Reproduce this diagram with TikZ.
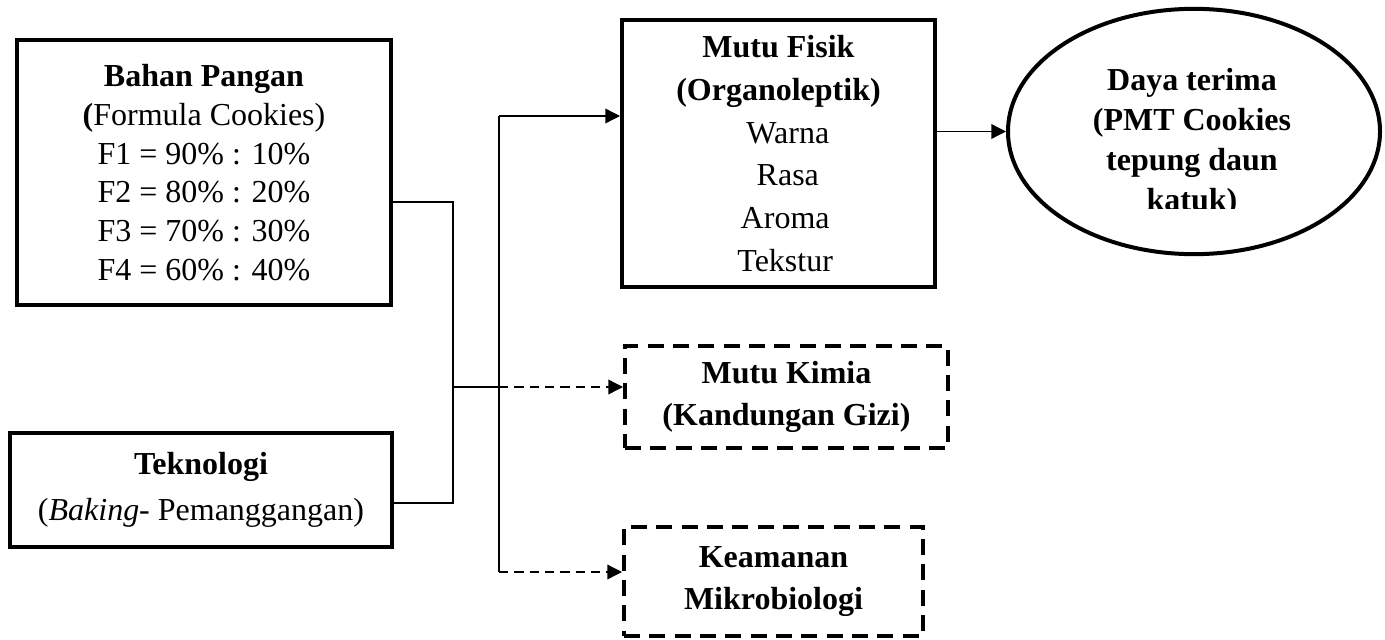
\documentclass[tikz,border=0pt]{standalone}
\usepackage{fontspec}
\setmainfont{Liberation Serif}
\usetikzlibrary{arrows.meta,shapes.geometric}

\tikzset{
  box/.style={draw,line width=3pt,align=center,inner sep=0pt,font=\fontsize{24}{29}\selectfont},
  dbox/.style={box,dash pattern=on 12pt off 7pt},
  ell/.style={draw,ellipse,line width=3pt,inner sep=0pt},
  conn/.style={line width=1pt},
  arr/.style={conn,-{Triangle[length=11pt,width=11pt]}},
  darr/.style={arr,dash pattern=on 7pt off 4.5pt},
}

\begin{document}
\begin{tikzpicture}[x=0.75pt,y=-0.75pt]
  \useasboundingbox (0,0) rectangle (1385,639);

  % left column
  \node[box,minimum width=280.5pt,minimum height=198.75pt] (bahan) at (204,172.5)
    {\textbf{Bahan Pangan}\\\textbf{(}Formula Cookies)\\F1 = 90\% : 10\%\\F2 = 80\% : 20\%\\F3 = 70\% : 30\%\\F4 = 60\% : 40\%};
  \node[box,minimum width=286.5pt,minimum height=85.5pt] (tekno) at (201,490)
    {\textbf{Teknologi}\\[5pt](\textit{Baking}- Pemanggangan)};

  % middle column
  \node[box,minimum width=234.75pt,minimum height=200.25pt,font=\fontsize{24}{32}\selectfont] (fisik) at (778.5,153.5)
    {\textbf{Mutu Fisik}\\\textbf{(Organoleptik)}\\\hspace*{14pt}Warna\\\hspace*{14pt}Rasa\\\hspace*{10pt}Aroma\\\hspace*{10pt}Tekstur};
  \node[dbox,minimum width=242.25pt,minimum height=76.5pt,font=\bfseries\fontsize{24}{31}\selectfont] (kimia) at (786.5,397)
    {Mutu Kimia\\(Kandungan Gizi)};
  \node[dbox,minimum width=224.25pt,minimum height=81.75pt,font=\bfseries\fontsize{24}{31}\selectfont] (aman) at (773.5,581.5)
    {Keamanan\\Mikrobiologi};

  % right
  \node[ell,minimum width=279pt,minimum height=184pt] (terima) at (1194,131.5) {};
  \begin{scope}
    \clip (1020,20) rectangle (1370,208);
    \node[align=center,font=\bfseries\fontsize{24}{30}\selectfont] (terimatxt) at (1192,143)
      {Daya terima\\(PMT Cookies\\tepung daun\\katuk)};
  \end{scope}

  % connectors
  \coordinate (jtop) at (453,202);
  \coordinate (jbot) at (453,503);
  \coordinate (jl) at (453,387);
  \coordinate (jr) at (499,387);
  \coordinate (vt) at (499,116);
  \coordinate (vb) at (499,572);

  \draw[conn] (bahan.east |- jtop) -- (jtop) -- (jbot) -- (tekno.east |- jbot);
  \draw[conn] (jl) -- (jr);
  \draw[darr] (jr) -- (kimia.west |- jr);
  \draw[conn] (vt) -- (vb);
  \draw[arr] (vt) -- (fisik.west |- vt);
  \draw[darr] (vb) -- (aman.west |- vb);
  \draw[arr] (fisik.east |- terima.west) -- (terima.west);
\end{tikzpicture}
\end{document}
